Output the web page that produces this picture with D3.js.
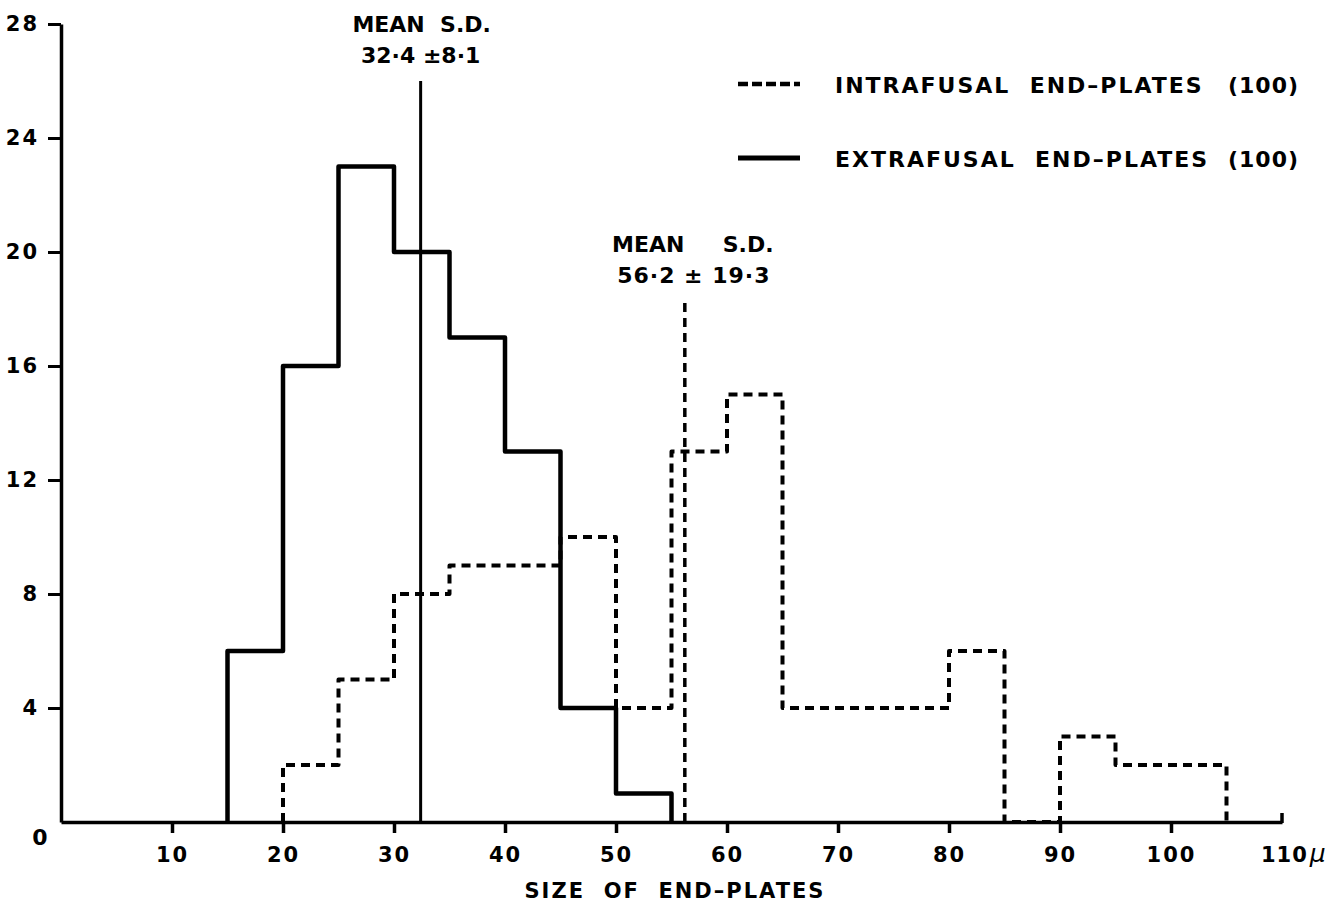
<!DOCTYPE html>
<html>
<head>
<meta charset="utf-8">
<script src="https://cdn.jsdelivr.net/npm/d3@7"></script>
<style>
  html, body { margin: 0; padding: 0; background: #fff; }
  svg { display: block; }
  text { font-family: "DejaVu Sans", "Noto Sans", sans-serif; font-weight: bold; fill: #000; }
</style>
</head>
<body>
<svg id="chart" width="1329" height="907"></svg>
<script>
// ---- data ----
const binWidth = 5;
const extraBins   = [15, 20, 25, 30, 35, 40, 45, 50];
const extraCounts = [6, 16, 23, 20, 17, 13, 4, 1];
const intraBins   = [20, 25, 30, 35, 40, 45, 50, 55, 60, 65, 70, 75, 80, 85, 90, 95, 100];
const intraCounts = [2, 5, 8, 9, 9, 10, 4, 13, 15, 4, 4, 4, 6, 0, 3, 2, 2];
const means       = [32.4, 56.2];
const sds         = [8.1, 19.3];
const meanTops    = [26, 18.3];
const xTickValues = [10, 20, 30, 40, 50, 60, 70, 80, 90, 100];
const yTickValues = [4, 8, 12, 16, 20, 24, 28];
const legendLabels = ["INTRAFUSAL  END\u2013PLATES", "EXTRAFUSAL  END\u2013PLATES"];
const legendCounts = ["(100)", "(100)"];

// ---- scales ----
const svg = d3.select("#chart");
const x = d3.scaleLinear().domain([0, 110]).range([61, 1282]);
const y = d3.scaleLinear().domain([0, 28]).range([822, 24]);

const dash = "9,6";

// ---- axes ----
const xAxis = d3.axisBottom(x).tickValues(xTickValues).tickSize(11).tickSizeOuter(0).tickPadding(14)
  .tickFormat(d => d);
const gx = svg.append("g").attr("transform", `translate(0,${y(0)})`).call(xAxis);
gx.select(".domain").attr("stroke", "#000").attr("stroke-width", 3.5);
gx.selectAll(".tick line").attr("stroke", "#000").attr("stroke-width", 3.5);
gx.selectAll(".tick text").attr("font-size", 21).attr("letter-spacing", 2)
  .attr("font-family", "DejaVu Sans").attr("font-weight", "bold").attr("fill", "#000");
// end hook at 110
svg.append("line").attr("x1", x(110)).attr("x2", x(110)).attr("y1", y(0) + 1).attr("y2", y(0) - 9)
  .attr("stroke", "#000").attr("stroke-width", 3.5);
const t110 = svg.append("text").attr("x", x(110) - 21).attr("y", 862).attr("font-size", 21)
  .attr("letter-spacing", 1);
t110.append("tspan").text("110");
t110.append("tspan").attr("font-size", 25).attr("font-style", "italic").attr("font-weight", "normal")
  .attr("dx", 2).text("\u03bc");

const yAxis = d3.axisLeft(y).tickValues(yTickValues).tickSize(13).tickSizeOuter(0).tickPadding(9);
const gy = svg.append("g").attr("transform", `translate(${x(0)},0)`).call(yAxis);
gy.select(".domain").attr("stroke", "#000").attr("stroke-width", 3.5);
gy.selectAll(".tick line").attr("stroke", "#000").attr("stroke-width", 3);
gy.selectAll(".tick text").attr("font-size", 21).attr("letter-spacing", 2)
  .attr("font-family", "DejaVu Sans").attr("font-weight", "bold").attr("fill", "#000");
svg.append("text").attr("x", 40).attr("y", 845).attr("font-size", 22).attr("text-anchor", "middle").text("0");

// ---- histograms ----
function stepPoints(bins, counts) {
  const pts = [[bins[0], 0]];
  bins.forEach((b, i) => { pts.push([b, counts[i]]); pts.push([b + binWidth, counts[i]]); });
  pts.push([bins[bins.length - 1] + binWidth, 0]);
  return pts;
}
const line = d3.line().x(d => x(d[0])).y(d => y(d[1]));

svg.append("path").attr("d", line(stepPoints(intraBins, intraCounts)))
  .attr("fill", "none").attr("stroke", "#000").attr("stroke-width", 4)
  .attr("stroke-dasharray", dash).attr("stroke-linejoin", "round");
svg.append("path").attr("d", line(stepPoints(extraBins, extraCounts)))
  .attr("fill", "none").attr("stroke", "#000").attr("stroke-width", 4.5)
  .attr("stroke-linejoin", "round");

// ---- mean lines ----
svg.append("line").attr("x1", x(means[0])).attr("x2", x(means[0]))
  .attr("y1", y(0)).attr("y2", y(meanTops[0]))
  .attr("stroke", "#000").attr("stroke-width", 3);
svg.append("line").attr("x1", x(means[1])).attr("x2", x(means[1]))
  .attr("y1", y(0)).attr("y2", y(meanTops[1]))
  .attr("stroke", "#000").attr("stroke-width", 3.5).attr("stroke-dasharray", dash);

const fmt = v => String(v).replace(".", "\u00b7");
svg.append("text").attr("x", x(means[0]) + 1).attr("y", 32).attr("font-size", 22)
  .attr("text-anchor", "middle").attr("xml:space", "preserve").text("MEAN  S.D.");
svg.append("text").attr("x", x(means[0])).attr("y", 63).attr("font-size", 22)
  .attr("text-anchor", "middle").text(`${fmt(means[0])} \u00b1${fmt(sds[0])}`);
svg.append("text").attr("x", x(means[1]) + 8).attr("y", 252).attr("font-size", 22)
  .attr("text-anchor", "middle").attr("xml:space", "preserve").text("MEAN     S.D.");
svg.append("text").attr("x", x(means[1]) + 9).attr("y", 283).attr("font-size", 22)
  .attr("text-anchor", "middle").attr("letter-spacing", 1).text(`${fmt(means[1])} \u00b1 ${fmt(sds[1])}`);

// ---- legend ----
const legendY = [84, 158];
legendLabels.forEach((lab, i) => {
  const l = svg.append("line").attr("x1", 738).attr("x2", 800)
    .attr("y1", legendY[i]).attr("y2", legendY[i])
    .attr("stroke", "#000").attr("stroke-width", i === 0 ? 4.5 : 5);
  if (i === 0) l.attr("stroke-dasharray", "10,4");
  svg.append("text").attr("x", 835).attr("y", legendY[i] + 9).attr("font-size", 22)
    .attr("letter-spacing", 2).attr("xml:space", "preserve").text(lab);
  svg.append("text").attr("x", 1228).attr("y", legendY[i] + 9).attr("font-size", 22)
    .attr("letter-spacing", 1).text(legendCounts[i]);
});

// ---- x title ----
svg.append("text").attr("x", 675).attr("y", 898).attr("font-size", 21)
  .attr("text-anchor", "middle").attr("letter-spacing", 2).attr("xml:space", "preserve")
  .text("SIZE  OF  END\u2013PLATES");
</script>
</body>
</html>
